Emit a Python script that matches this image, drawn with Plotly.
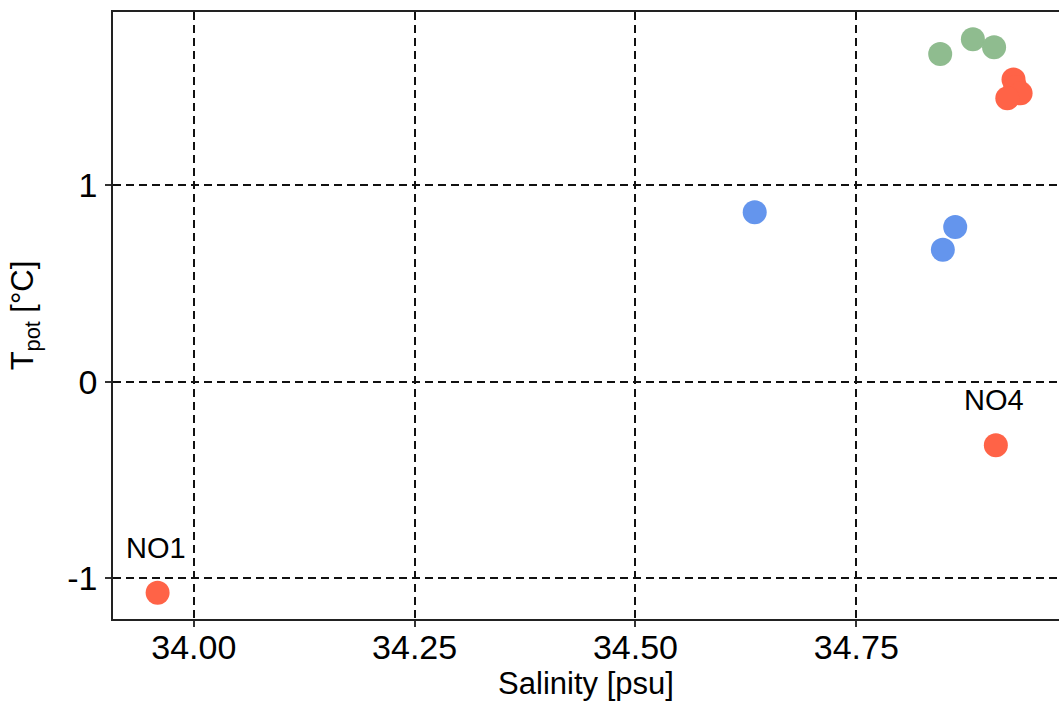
import plotly.graph_objects as go

# Potential temperature vs salinity, three water-mass groups
red_sal = [33.959, 34.908, 34.928, 34.930, 34.936, 34.921]
red_tpot = [-1.073, -0.323, 1.536, 1.498, 1.466, 1.441]
red_labels = ["NO1", "NO4", "", "", "", ""]

green_sal = [34.845, 34.882, 34.906]
green_tpot = [1.666, 1.741, 1.700]

blue_sal = [34.635, 34.862, 34.848]
blue_tpot = [0.861, 0.786, 0.671]

x_ticks = [34.00, 34.25, 34.50, 34.75]
x_ticklabels = ["34.00", "34.25", "34.50", "34.75"]
y_ticks = [-1, 0, 1]
y_ticklabels = ["-1", "0", "1"]

FONT = "Liberation Sans, Arial, sans-serif"

fig = go.Figure()
for xs, ys, col in [
    (blue_sal, blue_tpot, "#6495ED"),
    (green_sal, green_tpot, "#8FBC8F"),
    (red_sal, red_tpot, "#FF6347"),
]:
    fig.add_trace(go.Scatter(
        x=xs, y=ys, mode="markers",
        marker=dict(size=24, color=col, line=dict(width=0)),
        showlegend=False, hoverinfo="skip",
    ))

annotations = [
    dict(x=x, y=y, xref="x", yref="y", text=lab, showarrow=False,
         yshift=45, xshift=-2, font=dict(family=FONT, size=29, color="#000000"))
    for x, y, lab in zip(red_sal, red_tpot, red_labels) if lab
]

axis_common = dict(
    showline=True, linecolor="#222222", linewidth=1.6,
    ticks="outside", ticklen=6, tickwidth=1.5, tickcolor="#333333",
    showgrid=True, gridcolor="#111111", gridwidth=1.6, griddash="8px,5px",
    zeroline=False,
    tickfont=dict(family=FONT, size=34, color="#000000"),
)

fig.update_layout(
    width=1059, height=707,
    margin=dict(l=113, r=0, t=12, b=88),
    paper_bgcolor="white", plot_bgcolor="white",
    xaxis=dict(
        range=[33.9085, 34.9795], tickvals=x_ticks, ticktext=x_ticklabels,
        mirror=True, ticklabelstandoff=-9,
        title=dict(text="Salinity [psu]", standoff=2,
                   font=dict(family=FONT, size=31, color="#000000")),
        **axis_common,
    ),
    yaxis=dict(
        range=[-1.207, 1.8795], tickvals=y_ticks, ticktext=y_ticklabels,
        ticklabelstandoff=1,
        title=dict(text="T<sub>pot</sub> [°C]", standoff=24,
                   font=dict(family=FONT, size=31, color="#000000")),
        **axis_common,
    ),
    annotations=annotations,
)

fig.write_html("out.html")
